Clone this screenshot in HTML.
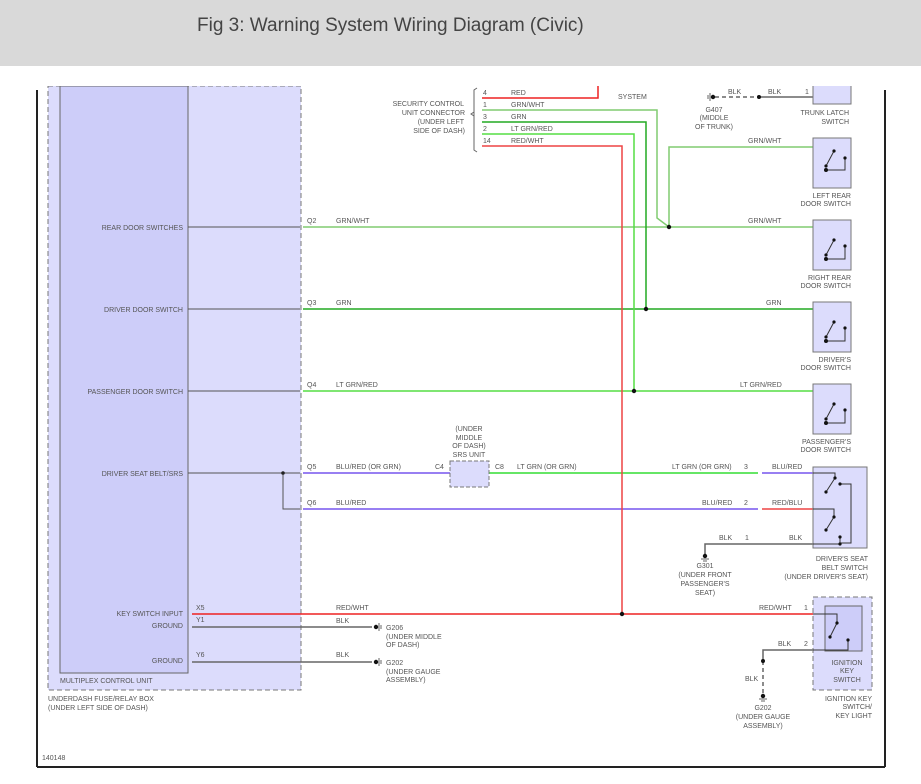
<!DOCTYPE html>
<html><head><meta charset="utf-8"><style>
body{margin:0;background:#fff;width:921px;height:784px;overflow:hidden}
.hdr{position:absolute;left:0;top:0;width:921px;height:66px;background:#d9d9d9}
.hdr span{position:absolute;left:197px;top:15px;font:19px "Liberation Sans",sans-serif;color:#444}
svg{position:absolute;left:0;top:0}
text{font-family:"Liberation Sans",sans-serif;font-size:7px;fill:#555}
</style></head><body>
<div class="hdr"><span>Fig 3: Warning System Wiring Diagram (Civic)</span></div>
<svg width="921" height="784" viewBox="0 0 921 784">
<line x1="37" y1="90" x2="37" y2="767" stroke="#222" stroke-width="2"/>
<line x1="37" y1="767" x2="885" y2="767" stroke="#222" stroke-width="2"/>
<line x1="885" y1="90" x2="885" y2="767" stroke="#222" stroke-width="2"/>
<rect x="48" y="86" width="253" height="604" fill="#dcdcfc" stroke="#777" stroke-dasharray="5,3"/>
<rect x="60" y="86" width="128" height="587" fill="#cdcdf9" stroke="#666"/>
<text x="183" y="230" text-anchor="end">REAR DOOR SWITCHES</text>
<text x="183" y="312" text-anchor="end">DRIVER DOOR SWITCH</text>
<text x="183" y="394" text-anchor="end">PASSENGER DOOR SWITCH</text>
<text x="183" y="476" text-anchor="end">DRIVER SEAT BELT/SRS</text>
<text x="183" y="616" text-anchor="end">KEY SWITCH INPUT</text>
<text x="183" y="628" text-anchor="end">GROUND</text>
<text x="183" y="663" text-anchor="end">GROUND</text>
<text x="60" y="683">MULTIPLEX CONTROL UNIT</text>
<text x="48" y="701">UNDERDASH FUSE/RELAY BOX</text>
<text x="48" y="710">(UNDER LEFT SIDE OF DASH)</text>
<text x="42" y="760" font-size="6">140148</text>
<g stroke="#555" fill="none">
<line x1="188" y1="227" x2="300" y2="227"/><line x1="188" y1="309" x2="300" y2="309"/>
<line x1="188" y1="391" x2="300" y2="391"/><line x1="188" y1="473" x2="300" y2="473"/>
<polyline points="283,473 283,509 300,509"/>
</g>
<circle cx="283" cy="473" r="1.8" fill="#222"/>
<g fill="none" stroke-width="1.5">
<line x1="303" y1="227" x2="813" y2="227" stroke="#80cc70"/>
<line x1="303" y1="309" x2="813" y2="309" stroke="#22aa22"/>
<line x1="303" y1="391" x2="813" y2="391" stroke="#55dd44"/>
<line x1="303" y1="473" x2="450" y2="473" stroke="#7755ee"/>
<line x1="489" y1="473" x2="758" y2="473" stroke="#33dd33"/>
<line x1="762" y1="473" x2="813" y2="473" stroke="#7755ee"/>
<line x1="303" y1="509" x2="758" y2="509" stroke="#7755ee"/>
<line x1="762" y1="509" x2="813" y2="509" stroke="#ee4444"/>
<line x1="192" y1="614" x2="813" y2="614" stroke="#ee2222"/>
<line x1="192" y1="627" x2="372" y2="627" stroke="#666"/>
<line x1="192" y1="662" x2="372" y2="662" stroke="#666"/>
<polyline points="813,544 705,544 705,554" stroke="#666"/>
<polyline points="482,98 598,98 598,86" stroke="#ee2222"/>
<polyline points="482,110 657,110 657,218 669,227" stroke="#80cc70"/>
<polyline points="669,227 669,147 813,147" stroke="#80cc70"/>
<polyline points="482,122 646,122 646,309" stroke="#22aa22"/>
<polyline points="482,134 634,134 634,391" stroke="#55dd44"/>
<polyline points="482,146 622,146 622,614" stroke="#ee4444"/>
<line x1="715" y1="97" x2="759" y2="97" stroke="#666" stroke-dasharray="4,3"/>
<line x1="759" y1="97" x2="813" y2="97" stroke="#666"/>
<polyline points="813,650 763,650 763,661" stroke="#666"/>
<line x1="763" y1="661" x2="763" y2="694" stroke="#666" stroke-dasharray="4,3"/>
</g>
<g fill="#111">
<circle cx="669" cy="227" r="2.2"/><circle cx="646" cy="309" r="2.2"/><circle cx="634" cy="391" r="2.2"/>
<circle cx="622" cy="614" r="2.2"/><circle cx="759" cy="97" r="2"/><circle cx="763" cy="661" r="2"/>
<circle cx="713" cy="97" r="2.2"/><circle cx="376" cy="627" r="2.2"/><circle cx="376" cy="662" r="2.2"/>
<circle cx="705" cy="556" r="2.2"/><circle cx="763" cy="696" r="2.2"/>
</g>
<g stroke="#666" fill="none">
<line x1="379" y1="623" x2="379" y2="631"/><line x1="381" y1="625" x2="381" y2="629"/>
<line x1="379" y1="658" x2="379" y2="666"/><line x1="381" y1="660" x2="381" y2="664"/>
<line x1="701" y1="559" x2="709" y2="559"/><line x1="703" y1="561" x2="707" y2="561"/>
<line x1="759" y1="699" x2="767" y2="699"/><line x1="761" y1="701" x2="765" y2="701"/>
<line x1="710" y1="93" x2="710" y2="101"/><line x1="708" y1="95" x2="708" y2="99"/>
<path d="M477,88 L474,90 L474,150 L477,152 M474,112 L471,114 L474,116" />
</g>
<rect x="450" y="461" width="39" height="26" fill="#dcdcfc" stroke="#777" stroke-dasharray="4,2"/>
<g fill="#dcdcfc" stroke="#777">
<rect x="813" y="80" width="38" height="24"/>
<rect x="813" y="138" width="38" height="50"/>
<rect x="813" y="220" width="38" height="50"/>
<rect x="813" y="302" width="38" height="50"/>
<rect x="813" y="384" width="38" height="50"/>
<rect x="813" y="467" width="54" height="81"/>
<rect x="813" y="597" width="59" height="93" stroke-dasharray="5,3"/>
<rect x="825" y="606" width="37" height="45" fill="#cdcdf9" stroke="#666"/>
</g>
<g stroke="#333" fill="none">
<path d="M834,151 L826,166 M826,170 L845,170 L845,158 M834,240 L826,255 M826,259 L845,259 L845,246 M834,322 L826,337 M826,341 L845,341 L845,328 M834,404 L826,419 M826,423 L845,423 L845,410"/>
<path d="M813,473 L835,473 L835,478 L826,492 M813,509 L834,509 L834,517 L826,530 M840,484 L851,484 L851,543 L840,543 L840,537 M813,544 L840,544 M813,614 L837,614 L837,623 L830,637 M813,650 L848,650 L848,640"/>
</g>
<g fill="#111">
<circle cx="835" cy="478" r="1.6"/><circle cx="826" cy="492" r="1.6"/><circle cx="840" cy="484" r="1.6"/>
<circle cx="834" cy="517" r="1.6"/><circle cx="826" cy="530" r="1.6"/><circle cx="840" cy="537" r="1.6"/><circle cx="840" cy="544" r="1.6"/>
<circle cx="837" cy="623" r="1.6"/><circle cx="830" cy="637" r="1.6"/><circle cx="848" cy="640" r="1.6"/>
<circle cx="834" cy="151" r="1.6"/><circle cx="826" cy="166" r="1.6"/><circle cx="845" cy="158" r="1.6"/><circle cx="826" cy="170" r="2"/>
<circle cx="834" cy="240" r="1.6"/><circle cx="826" cy="255" r="1.6"/><circle cx="845" cy="246" r="1.6"/><circle cx="826" cy="259" r="2"/>
<circle cx="834" cy="322" r="1.6"/><circle cx="826" cy="337" r="1.6"/><circle cx="845" cy="328" r="1.6"/><circle cx="826" cy="341" r="2"/>
<circle cx="834" cy="404" r="1.6"/><circle cx="826" cy="419" r="1.6"/><circle cx="845" cy="410" r="1.6"/><circle cx="826" cy="423" r="2"/>
</g>
<text x="307" y="223">Q2</text><text x="336" y="223">GRN/WHT</text>
<text x="307" y="305">Q3</text><text x="336" y="305">GRN</text>
<text x="307" y="387">Q4</text><text x="336" y="387">LT GRN/RED</text>
<text x="307" y="469">Q5</text><text x="336" y="469">BLU/RED (OR GRN)</text>
<text x="307" y="505">Q6</text><text x="336" y="505">BLU/RED</text>
<text x="196" y="610">X5</text><text x="196" y="622">Y1</text><text x="196" y="657">Y6</text>
<text x="336" y="610">RED/WHT</text><text x="336" y="623">BLK</text><text x="336" y="657">BLK</text>
<text x="386" y="630">G206</text><text x="386" y="639">(UNDER MIDDLE</text><text x="386" y="647">OF DASH)</text>
<text x="386" y="665">G202</text><text x="386" y="674">(UNDER GAUGE</text><text x="386" y="682">ASSEMBLY)</text>
<text x="469" y="431" text-anchor="middle">(UNDER</text><text x="469" y="440" text-anchor="middle">MIDDLE</text><text x="469" y="448" text-anchor="middle">OF DASH)</text><text x="469" y="457" text-anchor="middle">SRS UNIT</text>
<text x="435" y="469">C4</text><text x="495" y="469">C8</text>
<text x="517" y="469">LT GRN (OR GRN)</text>
<text x="672" y="469">LT GRN (OR GRN)</text><text x="744" y="469">3</text><text x="772" y="469">BLU/RED</text>
<text x="702" y="505">BLU/RED</text><text x="744" y="505">2</text><text x="772" y="505">RED/BLU</text>
<text x="719" y="540">BLK</text><text x="745" y="540">1</text><text x="789" y="540">BLK</text>
<text x="705" y="568" text-anchor="middle">G301</text><text x="705" y="577" text-anchor="middle">(UNDER FRONT</text><text x="705" y="586" text-anchor="middle">PASSENGER'S</text><text x="705" y="595" text-anchor="middle">SEAT)</text>
<text x="868" y="561" text-anchor="end">DRIVER'S SEAT</text><text x="868" y="570" text-anchor="end">BELT SWITCH</text><text x="868" y="579" text-anchor="end">(UNDER DRIVER'S SEAT)</text>
<text x="759" y="610">RED/WHT</text><text x="804" y="610">1</text>
<text x="778" y="646">BLK</text><text x="804" y="646">2</text>
<text x="745" y="681">BLK</text>
<text x="763" y="710" text-anchor="middle">G202</text><text x="763" y="719" text-anchor="middle">(UNDER GAUGE</text><text x="763" y="728" text-anchor="middle">ASSEMBLY)</text>
<text x="847" y="665" text-anchor="middle">IGNITION</text><text x="847" y="673" text-anchor="middle">KEY</text><text x="847" y="682" text-anchor="middle">SWITCH</text>
<text x="872" y="701" text-anchor="end">IGNITION KEY</text><text x="872" y="709" text-anchor="end">SWITCH/</text><text x="872" y="718" text-anchor="end">KEY LIGHT</text>
<text x="748" y="143">GRN/WHT</text><text x="748" y="223">GRN/WHT</text><text x="766" y="305">GRN</text><text x="740" y="387">LT GRN/RED</text>
<text x="851" y="198" text-anchor="end">LEFT REAR</text><text x="851" y="206" text-anchor="end">DOOR SWITCH</text>
<text x="851" y="280" text-anchor="end">RIGHT REAR</text><text x="851" y="288" text-anchor="end">DOOR SWITCH</text>
<text x="851" y="362" text-anchor="end">DRIVER'S</text><text x="851" y="370" text-anchor="end">DOOR SWITCH</text>
<text x="851" y="444" text-anchor="end">PASSENGER'S</text><text x="851" y="452" text-anchor="end">DOOR SWITCH</text>
<text x="849" y="115" text-anchor="end">TRUNK LATCH</text><text x="849" y="124" text-anchor="end">SWITCH</text>
<text x="728" y="94">BLK</text><text x="768" y="94">BLK</text><text x="805" y="94">1</text>
<text x="714" y="112" text-anchor="middle">G407</text><text x="714" y="120" text-anchor="middle">(MIDDLE</text><text x="714" y="129" text-anchor="middle">OF TRUNK)</text>
<text x="618" y="99">SYSTEM</text>
<text x="464" y="106" text-anchor="end">SECURITY CONTROL</text><text x="465" y="115" text-anchor="end">UNIT CONNECTOR</text><text x="464" y="124" text-anchor="end">(UNDER LEFT</text><text x="465" y="133" text-anchor="end">SIDE OF DASH)</text>
<text x="483" y="95">4</text><text x="511" y="95">RED</text>
<text x="483" y="107">1</text><text x="511" y="107">GRN/WHT</text>
<text x="483" y="119">3</text><text x="511" y="119">GRN</text>
<text x="483" y="131">2</text><text x="511" y="131">LT GRN/RED</text>
<text x="483" y="143">14</text><text x="511" y="143">RED/WHT</text>
</svg>
<div style="position:absolute;left:0;top:66px;width:921px;height:20px;background:#fff"></div>
</body></html>
